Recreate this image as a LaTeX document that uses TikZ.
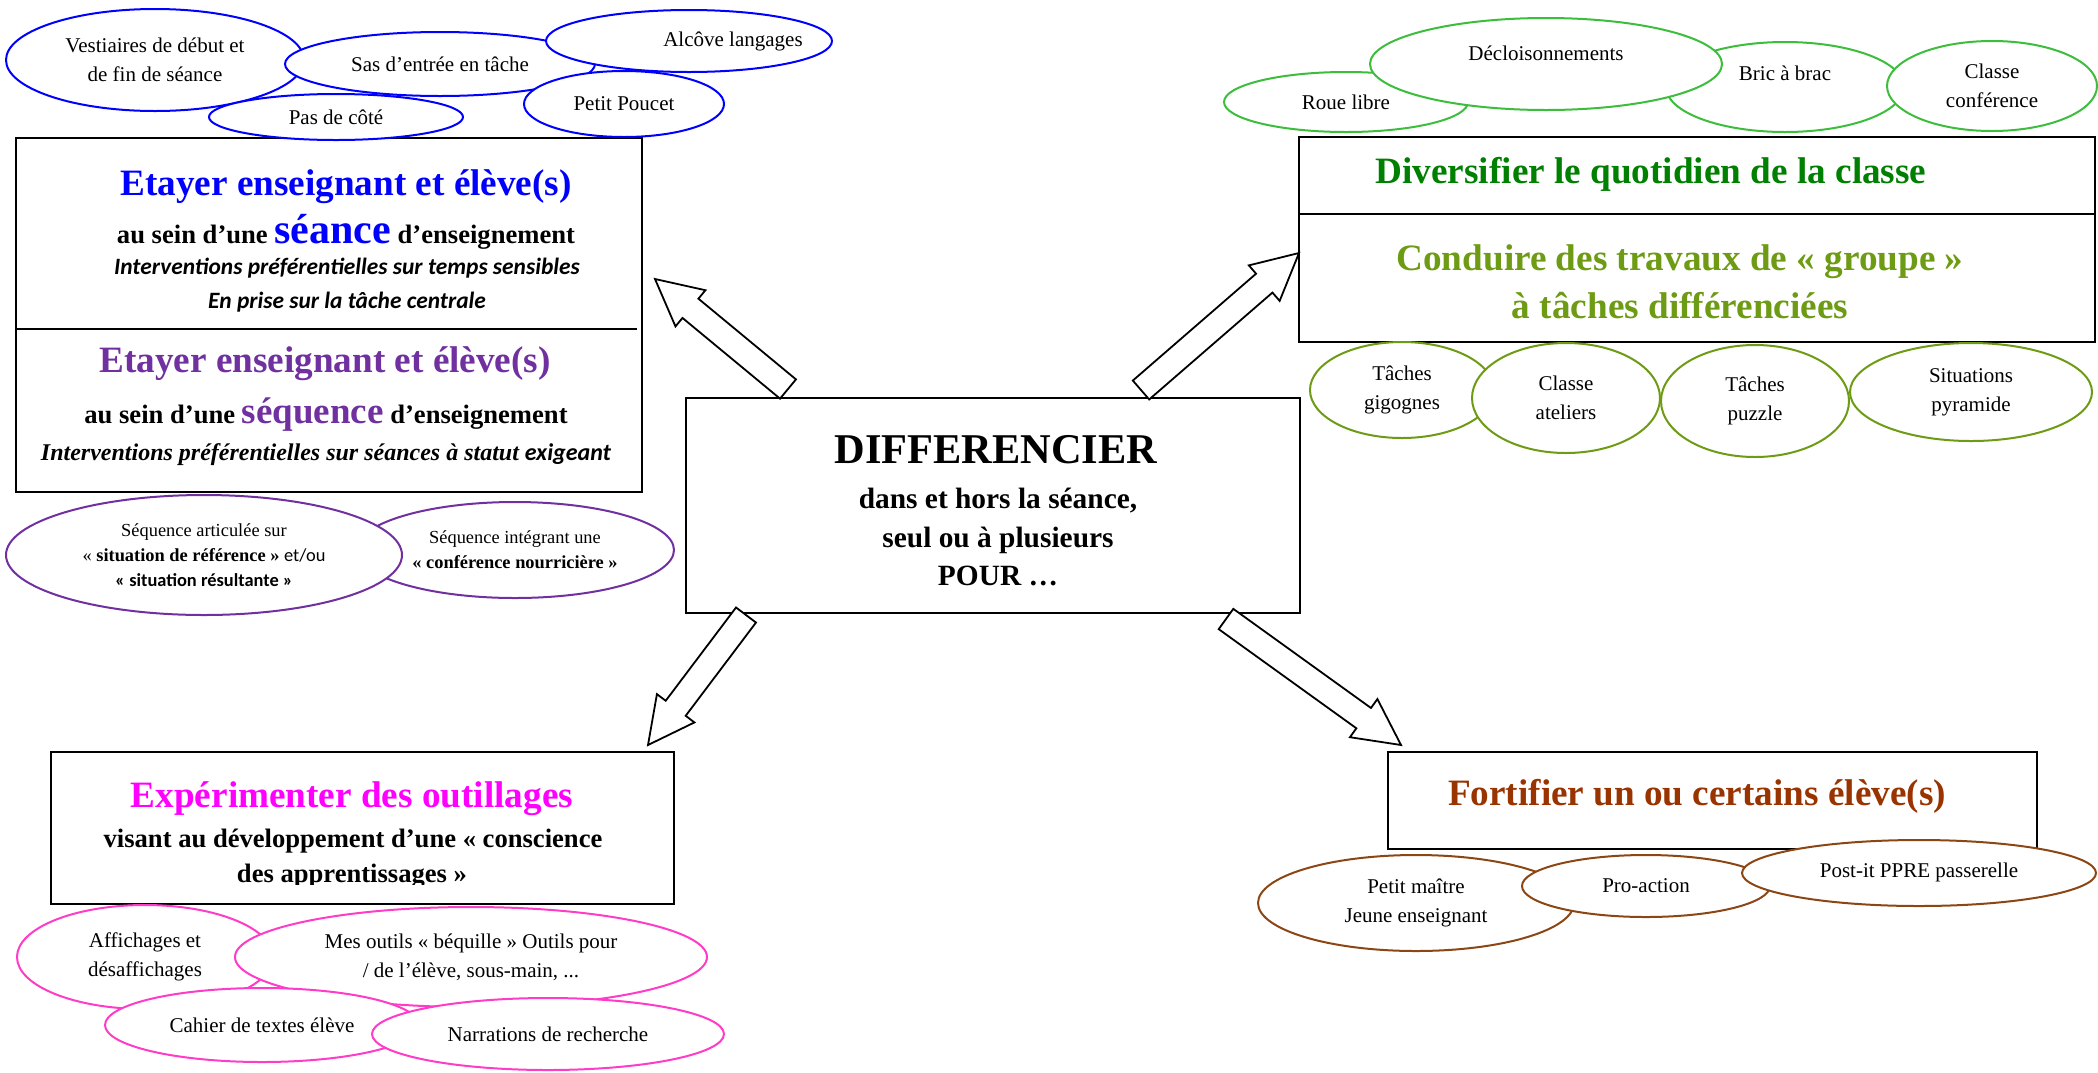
\documentclass[tikz,border=0pt]{standalone}
\usepackage{fontspec}
\setmainfont{Liberation Serif}
\newfontfamily\calibri{Carlito}
\usetikzlibrary{shapes.geometric,calc}

\definecolor{bleu}{RGB}{0,0,255}
\definecolor{pourpre}{RGB}{112,48,160}
\definecolor{vertclair}{RGB}{60,190,60}
\definecolor{vertfonce}{RGB}{0,128,0}
\definecolor{olivier}{RGB}{110,155,20}
\definecolor{rose}{RGB}{255,60,200}
\definecolor{magent}{RGB}{255,0,255}
\definecolor{brun}{RGB}{153,51,0}
\definecolor{brunclair}{RGB}{140,70,20}

% fleche epaisse : #1 = queue, #2 = pointe
\newcommand{\grossefleche}[2]{%
  \coordinate (#2b) at ($(#2)!23pt!(#1)$);
  \draw[fleche] ($(#1)!6.25pt!90:(#2)$) -- ($(#2b)!6.25pt!90:(#2)$)
    -- ($(#2b)!11.75pt!90:(#2)$) -- (#2) -- ($(#2b)!11.75pt!-90:(#2)$)
    -- ($(#2b)!6.25pt!-90:(#2)$) -- ($(#1)!6.25pt!-90:(#2)$) -- cycle;}

\begin{document}
\begin{tikzpicture}[x=0.5pt,y=-0.5pt,
  bulle/.style={ellipse, draw=#1, fill=white, line width=1pt, inner sep=0pt,
    align=center, font=\fontsize{10.5}{14.5}\selectfont},
  cadre/.style={rectangle, draw, line width=1.2pt, inner sep=0pt},
  titre/.style={anchor=base, text=#1, font=\bfseries\fontsize{18.6}{22}\selectfont},
  ligne/.style={anchor=base, font=\bfseries\fontsize{13.3}{16}\selectfont},
  grand/.style={anchor=base, font=\bfseries\fontsize{14.7}{17}\selectfont},
  calib/.style={anchor=base, font=\calibri\bfseries\itshape\fontsize{11.7}{14}\selectfont},
  fleche/.style={draw, fill=white, line width=0.9pt, line join=miter}]

\useasboundingbox (0,0) rectangle (2098,1072);

  % cadre seance / sequence
  \node[cadre, minimum width=313pt, minimum height=177pt] (etayer) at (329,315) {};
  \draw[line width=1.2pt] (16,329) -- (637,329);
  \node[titre=bleu] (seance1) at (346,195) {Etayer enseignant et élève(s)};
  \node[ligne] (seance2) at (346,243) {au sein d’une {\color{bleu}\fontsize{21}{24}\selectfont séance} d’enseignement};
  \node[calib] (seance3) at (347,274) {Interventions préférentielles sur temps sensibles};
  \node[calib] (seance4) at (347,308) {En prise sur la tâche centrale};
  \node[titre=pourpre] (sequence1) at (325,372) {Etayer enseignant et élève(s)};
  \node[ligne] (sequence2) at (326,423) {au sein d’une {\color{pourpre}\fontsize{18.5}{22}\selectfont séquence} d’enseignement};
  \node[anchor=base, font=\bfseries\itshape\fontsize{12}{14}\selectfont] (sequence3) at (326,460)
    {Interventions préférentielles sur séances à statut {\calibri exigeant}};

  % bulles bleues
  \node[bulle=bleu, minimum width=149pt, minimum height=51pt] (vestiaires) at (155,60) {Vestiaires de début et\\de fin de séance};
  \node[bulle=bleu, minimum width=155pt, minimum height=32pt] (sas) at (440,64) {Sas d’entrée en tâche};
  \node[bulle=bleu, minimum width=143pt, minimum height=31pt] (alcove) at (689,41) {\makebox[0pt]{\hspace*{44pt}Alcôve langages}};
  \node[bulle=bleu, minimum width=100pt, minimum height=33pt] (poucet) at (624,104) {Petit Poucet};
  \node[bulle=bleu, minimum width=127pt, minimum height=23pt] (cote) at (336,117) {Pas de côté};

  % bulles violettes
  \node[bulle=pourpre, minimum width=159pt, minimum height=48pt, font=\fontsize{9.2}{12.5}\selectfont] (integrant) at (515,550)
    {Séquence intégrant une\\\textbf{« conférence nourricière »}};
  \node[bulle=pourpre, minimum width=198pt, minimum height=60pt, font=\fontsize{9.2}{12.5}\selectfont] (articulee) at (204,555)
    {Séquence articulée sur\\« \textbf{situation de référence »} {\calibri et/ou}\\{\calibri\bfseries « situation résultante »}};

  % cadre central
  \node[cadre, minimum width=307pt, minimum height=107.5pt] (diff) at (993,505.5) {};
  \node[anchor=base, font=\bfseries\fontsize{21.2}{24}\selectfont] (diff1) at (996,463) {DIFFERENCIER};
  \node[grand] (diff2) at (998,508) {dans et hors la séance,};
  \node[grand] (diff3) at (998,547) {seul ou à plusieurs};
  \node[grand] (diff4) at (998,585) {POUR …};

  % cadre quotidien / groupes
  \node[cadre, minimum width=398pt, minimum height=102.5pt] (quotidien) at (1697,239.5) {};
  \draw[line width=1.2pt] (1299,214) -- (2095,214);
  \node[titre=vertfonce] (quotidien1) at (1651,183) {Diversifier le quotidien de la classe};
  \node[titre=olivier] (groupe1) at (1680,270) {Conduire des travaux de « groupe »};
  \node[titre=olivier] (groupe2) at (1680,318) {à tâches différenciées};

  % bulles vertes
  \node[bulle=vertclair, minimum width=122pt, minimum height=30pt] (roue) at (1346,102) {Roue libre};
  \node[bulle=vertclair, minimum width=119pt, minimum height=45pt] (bric) at (1785,87) {\raisebox{3.5pt}[0pt][0pt]{Bric à brac}};
  \node[bulle=vertclair, minimum width=176pt, minimum height=46pt] (decloi) at (1546,64) {\raisebox{2pt}[0pt][0pt]{Décloisonnements}};
  \node[bulle=vertclair, minimum width=105pt, minimum height=45pt] (conference) at (1992,86) {Classe\\conférence};

  \node[bulle=olivier, minimum width=92pt, minimum height=48pt] (gigognes) at (1402,390) {Tâches\\gigognes};
  \node[bulle=olivier, minimum width=94pt, minimum height=55pt] (ateliers) at (1566,398) {Classe\\ateliers};
  \node[bulle=olivier, minimum width=94pt, minimum height=56pt] (puzzle) at (1755,401) {Tâches\\puzzle};
  \node[bulle=olivier, minimum width=121pt, minimum height=49pt] (pyramide) at (1971,392) {Situations\\pyramide};

  % cadre outillages
  \node[cadre, minimum width=311.5pt, minimum height=76pt] (outillages) at (362.5,828) {};
  \node[titre=magent] (outil1) at (352,807) {Expérimenter des outillages};
  \node[ligne] (outil2) at (353,847) {visant au développement d’une « conscience};
  \begin{scope}
    \clip (51,752) rectangle (674,884);
    \node[ligne] (outil3) at (352,882) {des apprentissages »};
  \end{scope}

  % bulles roses
  \node[bulle=rose, minimum width=128pt, minimum height=52pt] (affichages) at (145,957) {Affichages et\\désaffichages};
  \node[bulle=rose, minimum width=236pt, minimum height=50pt] (bequille) at (471,957) {Mes outils « béquille » Outils pour\\/ de l’élève, sous-main, ...};
  \node[bulle=rose, minimum width=157pt, minimum height=37pt] (cahier) at (262,1025) {Cahier de textes élève};
  \node[bulle=rose, minimum width=176pt, minimum height=36pt] (narrations) at (548,1034) {Narrations de recherche};

  % cadre fortifier
  \node[cadre, minimum width=324.5pt, minimum height=48.5pt] (fortifier) at (1712.5,800.5) {};
  \node[titre=brun] (fortifier1) at (1697,805) {Fortifier un ou certains élève(s)};

  \node[bulle=brunclair, minimum width=158pt, minimum height=48pt] (maitre) at (1416,903) {Petit maître\\Jeune enseignant};
  \node[bulle=brunclair, minimum width=124pt, minimum height=31pt] (proaction) at (1646,886) {Pro-action};
  \node[bulle=brunclair, minimum width=177pt, minimum height=33pt] (postit) at (1919,873) {\raisebox{2.5pt}{Post-it PPRE passerelle}};

  % fleches
  \coordinate (nwq) at (788,389);  \coordinate (nwp) at (655,279);
  \coordinate (neq) at (1141,390); \coordinate (nep) at (1299,253);
  \coordinate (swq) at (746,615);  \coordinate (swp) at (648,745);
  \coordinate (seq) at (1226,619); \coordinate (sep) at (1401,745);
  \grossefleche{nwq}{nwp}
  \grossefleche{neq}{nep}
  \grossefleche{swq}{swp}
  \grossefleche{seq}{sep}

\end{tikzpicture}
\end{document}
